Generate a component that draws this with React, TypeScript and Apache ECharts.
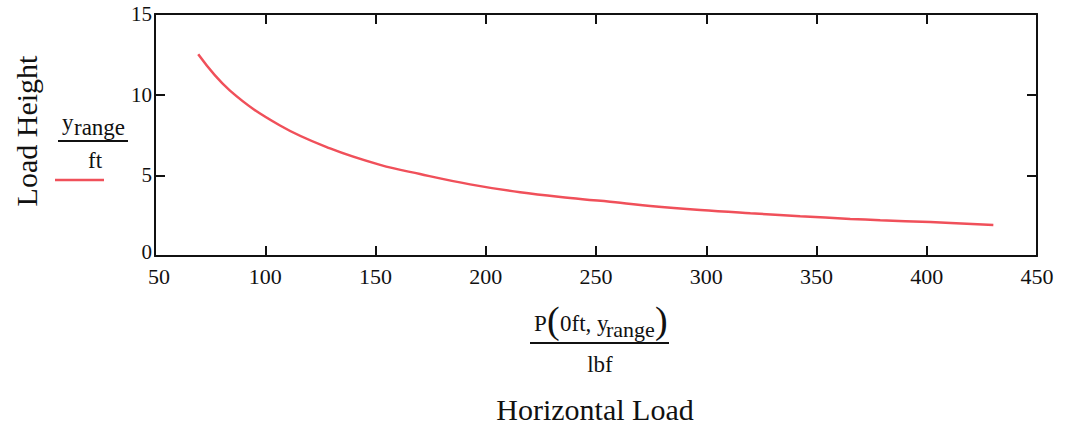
import React, { useEffect, useRef } from "react";
import * as echarts from "echarts";

// Horizontal load P (lbf) and load height y_range (ft)
const loadP = [69.6, 84.0, 106.7, 129.4, 152.1, 170.2, 192.9, 215.6, 238.3, 261.0, 274.6, 297.3, 320.0, 342.6, 365.3, 378.9, 401.6, 430.2];
const heightY = [12.5, 10.25, 8.09, 6.67, 5.65, 5.08, 4.44, 3.95, 3.6, 3.3, 3.1, 2.85, 2.65, 2.47, 2.3, 2.22, 2.1, 1.92];
const xTicks = [50, 100, 150, 200, 250, 300, 350, 400, 450];
const yTicks = [0, 5, 10, 15];

const SERIF = "'Liberation Serif', 'DejaVu Serif', serif";
const RED = "#f0505a";

export default function App() {
  const ref = useRef<HTMLDivElement>(null);
  useEffect(() => {
    if (!ref.current) return;
    const chart = echarts.init(ref.current, undefined, { renderer: "svg" });
    const axisLine = { show: true, onZero: false, lineStyle: { color: "#111", width: 2 } };
    const tick = { show: true, inside: true, length: 10, lineStyle: { color: "#111", width: 2 } };
    const data = loadP.map((p, i) => [p, heightY[i]]);
    chart.setOption({
      animation: false,
      backgroundColor: "#fff",
      grid: { left: 155, right: 30, top: 14, bottom: 168, containLabel: false },
      xAxis: [
        {
          type: "value",
          min: xTicks[0],
          max: xTicks[xTicks.length - 1],
          interval: 50,
          position: "bottom",
          axisLine,
          axisTick: tick,
          splitLine: { show: false },
          axisLabel: {
            color: "#111",
            fontFamily: SERIF,
            fontSize: 22,
            margin: 9,
            formatter: (v: number) => (v === xTicks[0] ? "{f|" + v + "}" : String(v)),
            rich: { f: { fontFamily: SERIF, fontSize: 22, color: "#111", padding: [0, 0, 0, 8] } },
          },
        },
        {
          type: "value",
          min: xTicks[0],
          max: xTicks[xTicks.length - 1],
          interval: 50,
          position: "top",
          axisLine,
          axisTick: tick,
          splitLine: { show: false },
          axisLabel: { show: false },
        },
      ],
      yAxis: [
        {
          type: "value",
          min: yTicks[0],
          max: yTicks[yTicks.length - 1],
          interval: 5,
          position: "left",
          axisLine,
          axisTick: tick,
          splitLine: { show: false },
          axisLabel: {
            color: "#111",
            fontFamily: SERIF,
            fontSize: 21,
            margin: 3,
            formatter: (v: number) => (v === 0 ? "{z|0}" : String(v)),
            rich: { z: { fontFamily: SERIF, fontSize: 21, color: "#111", padding: [0, 0, 8, 0] } },
          },
        },
        {
          type: "value",
          min: yTicks[0],
          max: yTicks[yTicks.length - 1],
          interval: 5,
          position: "right",
          axisLine,
          axisTick: tick,
          splitLine: { show: false },
          axisLabel: { show: false },
        },
      ],
      series: [
        {
          type: "line",
          data,
          smooth: 0.4,
          symbol: "none",
          lineStyle: { color: RED, width: 2.5 },
          xAxisIndex: 0,
          yAxisIndex: 0,
        },
      ],
      graphic: [
        {
          type: "text",
          x: 26,
          y: 131,
          rotation: Math.PI / 2,
          style: { text: "Load Height", fontFamily: SERIF, fontSize: 30, fill: "#111", align: "center", verticalAlign: "middle" },
        },
        { type: "text", x: 62, y: 122, style: { text: "y", fontFamily: SERIF, fontSize: 23, fill: "#111", align: "left", verticalAlign: "middle" } },
        { type: "text", x: 74, y: 127, style: { text: "range", fontFamily: SERIF, fontSize: 23, fill: "#111", align: "left", verticalAlign: "middle" } },
        { type: "line", shape: { x1: 58, y1: 141, x2: 128, y2: 141 }, style: { stroke: "#111", lineWidth: 2 } },
        { type: "text", x: 95, y: 160, style: { text: "ft", fontFamily: SERIF, fontSize: 23, fill: "#111", align: "center", verticalAlign: "middle" } },
        { type: "line", shape: { x1: 55, y1: 180, x2: 104, y2: 180 }, style: { stroke: RED, lineWidth: 2.5 } },

        { type: "text", x: 534, y: 323, style: { text: "P", fontFamily: SERIF, fontSize: 23, fill: "#111", align: "left", verticalAlign: "middle" } },
        { type: "text", x: 547, y: 320, style: { text: "(", fontFamily: SERIF, fontSize: 38, fill: "#111", align: "left", verticalAlign: "middle" } },
        { type: "text", x: 560, y: 323, style: { text: "0ft, y", fontFamily: SERIF, fontSize: 23, fill: "#111", align: "left", verticalAlign: "middle" } },
        { type: "text", x: 606, y: 329, style: { text: "range", fontFamily: SERIF, fontSize: 22, fill: "#111", align: "left", verticalAlign: "middle" } },
        { type: "text", x: 655, y: 320, style: { text: ")", fontFamily: SERIF, fontSize: 38, fill: "#111", align: "left", verticalAlign: "middle" } },
        { type: "line", shape: { x1: 530, y1: 343, x2: 669, y2: 343 }, style: { stroke: "#111", lineWidth: 2 } },
        { type: "text", x: 600, y: 364, style: { text: "lbf", fontFamily: SERIF, fontSize: 23, fill: "#111", align: "center", verticalAlign: "middle" } },
        { type: "text", x: 595, y: 409, style: { text: "Horizontal Load", fontFamily: SERIF, fontSize: 30, fill: "#111", align: "center", verticalAlign: "middle" } },
      ],
    });
    return () => chart.dispose();
  }, []);
  return <div ref={ref} style={{ position: "absolute", left: 0, top: 0, width: 1067, height: 424 }} />;
}
